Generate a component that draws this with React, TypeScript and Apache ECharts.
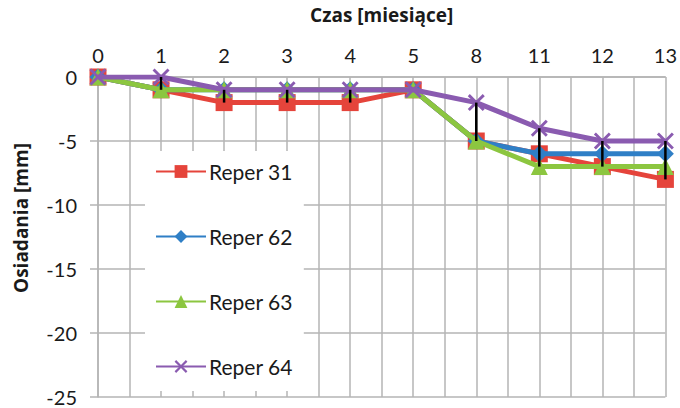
import React, { useEffect, useRef } from "react";
import * as echarts from "echarts";

const categories = ["0", "1", "2", "3", "4", "5", "8", "11", "12", "13"];
const reper31 = [0, -1, -2, -2, -2, -1, -5, -6, -7, -8];
const reper62 = [0, -1, -1, -1, -1, -1, -5, -6, -6, -6];
const reper63 = [0, -1, -1, -1, -1, -1, -5, -7, -7, -7];
const reper64 = [0, 0, -1, -1, -1, -1, -2, -4, -5, -5];
const seriesNames = ["Reper 31", "Reper 62", "Reper 63", "Reper 64"];
const yTicks = { min: -25, max: 0, interval: 5 };

const FONT = "Lato";
const BOLD_FONT = "Open Sans";
const TXT = "#1a1a1a";
const GRID = "#b4b4b4";
const X_PATH =
  "path://M0,1.2 L1.2,0 L5,3.8 L8.8,0 L10,1.2 L6.2,5 L10,8.8 L8.8,10 L5,6.2 L1.2,10 L0,8.8 L3.8,5 Z";

export default function App() {
  const ref = useRef<HTMLDivElement>(null);
  useEffect(() => {
    if (!ref.current) return;
    const chart = echarts.init(ref.current, undefined, { renderer: "svg" });
    const all = [reper31, reper62, reper63, reper64];
    const hiLo = categories.map((_, i) => {
      const vals = all.map((s) => s[i]);
      return [i, Math.max(...vals), Math.min(...vals)];
    });
    const toPts = (arr: number[]) => arr.map((v, i) => [i, v]);
    const mk = (
      name: string,
      data: number[],
      color: string,
      symbol: string,
      symbolSize: number,
      z: number
    ) => ({
      name,
      type: "line",
      data: toPts(data),
      symbol,
      symbolSize,
      showAllSymbol: true,
      z,
      lineStyle: { color, width: 5 },
      itemStyle: { color, borderWidth: 0 },
    });
    chart.setOption({
      animation: false,
      backgroundColor: "#ffffff",
      textStyle: { fontFamily: FONT },
      grid: { left: 98, right: 12, top: 76, bottom: 11, containLabel: false },
      xAxis: {
        type: "value",
        position: "top",
        min: 0,
        max: categories.length - 1,
        interval: 0.5,
        name: "Czas [miesiące]",
        nameLocation: "middle",
        nameGap: 53,
        nameTextStyle: { fontFamily: BOLD_FONT, fontSize: 19, fontWeight: "bold", color: TXT },
        axisLine: { show: true, lineStyle: { color: GRID, width: 1.5 } },
        axisTick: { show: false },
        axisLabel: {
          fontFamily: FONT,
          fontSize: 20,
          color: TXT,
          margin: 12,
          formatter: (v: number) => (Number.isInteger(v) ? categories[v] : ""),
        },
        splitLine: { show: true, lineStyle: { color: GRID, width: 1.5 } },
      },
      yAxis: {
        type: "value",
        min: yTicks.min,
        max: yTicks.max,
        interval: yTicks.interval,
        axisLine: { show: true, lineStyle: { color: GRID, width: 1.5 } },
        axisTick: { show: true, inside: false, length: 8, lineStyle: { color: GRID, width: 1.5 } },
        axisLabel: { fontFamily: FONT, fontSize: 20, lineHeight: 15, color: TXT, margin: 21 },
        splitLine: { show: true, lineStyle: { color: GRID, width: 1.5 } },
      },
      legend: {
        data: seriesNames,
        orient: "vertical",
        left: 145,
        top: 151,
        itemWidth: 50,
        itemHeight: 16,
        itemGap: 44,
        padding: [10, 11, 14, 10],
        backgroundColor: "#ffffff",
        textStyle: { fontFamily: FONT, fontSize: 21, color: TXT, padding: [0, 0, 0, -2] },
      },
      graphic: [
        {
          type: "text",
          x: 21,
          y: 218,
          rotation: Math.PI / 2,
          style: {
            text: "Osiadania [mm]",
            fontFamily: BOLD_FONT,
            fontSize: 19,
            fontWeight: "bold",
            fill: TXT,
            align: "center",
            verticalAlign: "middle",
          },
        },
      ],
      series: [
        mk(seriesNames[0], reper31, "#e5443b", "rect", 17, 2),
        mk(seriesNames[1], reper62, "#2f7fc6", "diamond", 17, 3),
        mk(seriesNames[2], reper63, "#8cc640", "triangle", 17, 4),
        mk(seriesNames[3], reper64, "#8a5bb0", X_PATH, 17, 5),
        {
          type: "custom",
          name: "hilo",
          z: 10,
          data: hiLo,
          renderItem: (_p: any, api: any) => {
            const a = api.coord([api.value(0), api.value(1)]);
            const b = api.coord([api.value(0), api.value(2)]);
            return {
              type: "line",
              shape: { x1: a[0], y1: a[1], x2: b[0], y2: b[1] },
              style: { stroke: "#000000", lineWidth: 2.5 },
            };
          },
        },
      ],
    });
    return () => chart.dispose();
  }, []);
  return <div ref={ref} style={{ width: 680, height: 408, position: "absolute", left: 0, top: 0 }} />;
}
